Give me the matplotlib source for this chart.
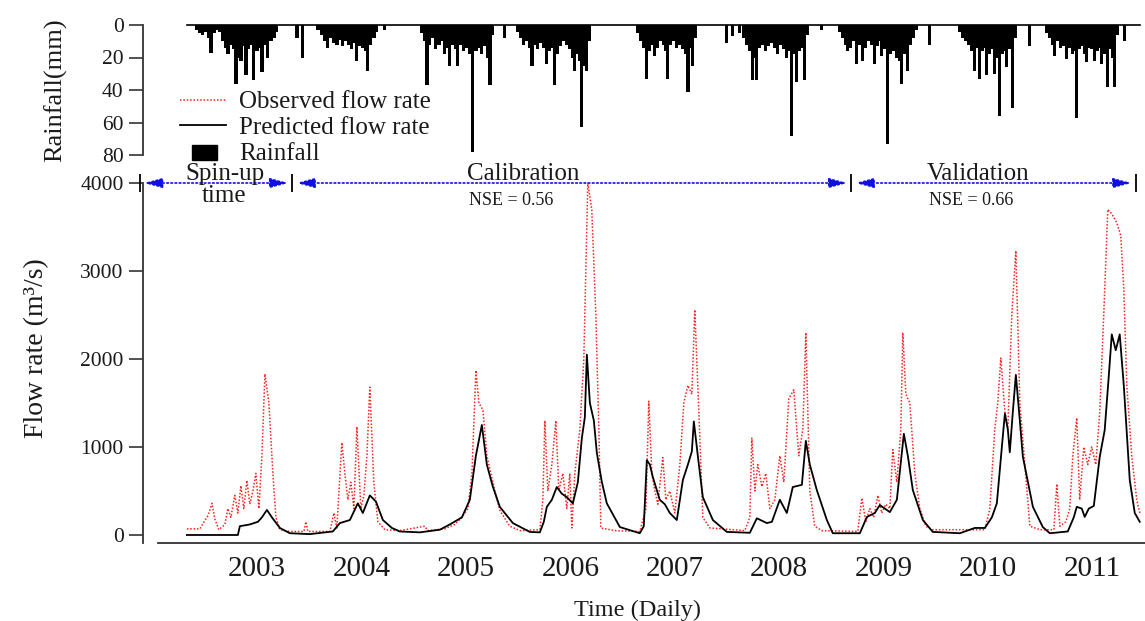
import matplotlib.pyplot as plt
import matplotlib.patches as mpatches
from matplotlib.lines import Line2D
from matplotlib.legend_handler import HandlerPatch

plt.rcParams['font.family'] = ['Liberation Serif', 'DejaVu Serif']

# time in decimal years, flow in m3/s
pred_t = [
    2002.830, 2003.318, 2003.337, 2003.433, 2003.510, 2003.548, 2003.596, 2003.644, 2003.720, 2003.816,
    2004.007, 2004.227, 2004.294, 2004.390, 2004.466, 2004.514, 2004.581, 2004.639, 2004.706, 2004.792,
    2004.868, 2005.060, 2005.251, 2005.347, 2005.462, 2005.538, 2005.596, 2005.653, 2005.701, 2005.758,
    2005.825, 2005.950, 2006.112, 2006.208, 2006.246, 2006.275, 2006.323, 2006.370, 2006.418, 2006.466,
    2006.524, 2006.572, 2006.610, 2006.639, 2006.658, 2006.687, 2006.725, 2006.754, 2006.802, 2006.849,
    2006.974, 2007.165, 2007.203, 2007.232, 2007.261, 2007.289, 2007.356, 2007.404, 2007.452, 2007.519,
    2007.577, 2007.625, 2007.663, 2007.682, 2007.720, 2007.768, 2007.864, 2007.998, 2008.218, 2008.285,
    2008.381, 2008.429, 2008.505, 2008.572, 2008.629, 2008.716, 2008.754, 2008.792, 2008.859, 2008.955,
    2009.012, 2009.271, 2009.338, 2009.414, 2009.462, 2009.510, 2009.558, 2009.625, 2009.692, 2009.730,
    2009.778, 2009.874, 2009.969, 2010.228, 2010.371, 2010.467, 2010.534, 2010.582, 2010.630, 2010.659,
    2010.687, 2010.706, 2010.735, 2010.764, 2010.802, 2010.831, 2010.927, 2011.022, 2011.089, 2011.261,
    2011.318, 2011.347, 2011.395, 2011.423, 2011.462, 2011.510, 2011.567, 2011.614, 2011.653, 2011.682,
    2011.720, 2011.758, 2011.797, 2011.854, 2011.902, 2011.950]
pred_q = [
    0, 0, 100, 120, 150, 200, 285, 200, 80, 20,
    10, 40, 135, 170, 360, 250, 450, 380, 170, 80,
    40, 30, 60, 120, 200, 400, 900, 1250, 800, 550,
    320, 135, 35, 30, 150, 320, 400, 545, 470, 430,
    360, 600, 1100, 1340, 2050, 1500, 1300, 930, 600, 360,
    90, 20, 100, 850, 800, 660, 400, 350, 250, 170,
    625, 800, 950, 1290, 900, 430, 170, 35, 25, 190,
    135, 150, 400, 250, 545, 570, 1070, 800, 510, 170,
    20, 20, 205, 250, 340, 300, 260, 400, 1150, 900,
    510, 170, 35, 20, 80, 80, 200, 360, 1000, 1380,
    1200, 940, 1400, 1820, 1300, 890, 320, 90, 20, 40,
    200, 320, 300, 205, 300, 330, 890, 1190, 1800, 2280,
    2100, 2280, 1700, 625, 250, 150]

obs_t = [
    2002.830, 2002.955, 2002.994, 2003.032, 2003.070, 2003.098, 2003.136, 2003.194, 2003.222, 2003.251,
    2003.289, 2003.318, 2003.347, 2003.375, 2003.404, 2003.433, 2003.462, 2003.490, 2003.519, 2003.548,
    2003.577, 2003.615, 2003.653, 2003.682, 2003.720, 2003.816, 2003.950, 2003.969, 2003.988, 2004.199,
    2004.237, 2004.265, 2004.313, 2004.342, 2004.371, 2004.399, 2004.428, 2004.457, 2004.495, 2004.524,
    2004.553, 2004.581, 2004.619, 2004.658, 2004.725, 2004.868, 2005.107, 2005.136, 2005.299, 2005.394,
    2005.462, 2005.519, 2005.558, 2005.596, 2005.625, 2005.663, 2005.701, 2005.730, 2005.778, 2005.825,
    2005.920, 2006.016, 2006.208, 2006.237, 2006.256, 2006.285, 2006.323, 2006.361, 2006.390, 2006.428,
    2006.466, 2006.495, 2006.514, 2006.543, 2006.591, 2006.629, 2006.667, 2006.705, 2006.744, 2006.773,
    2006.792, 2006.926, 2007.165, 2007.223, 2007.251, 2007.280, 2007.309, 2007.337, 2007.385, 2007.414,
    2007.452, 2007.500, 2007.548, 2007.586, 2007.625, 2007.663, 2007.691, 2007.730, 2007.768, 2007.835,
    2008.170, 2008.218, 2008.237, 2008.266, 2008.294, 2008.333, 2008.371, 2008.409, 2008.457, 2008.505,
    2008.543, 2008.591, 2008.639, 2008.686, 2008.725, 2008.754, 2008.792, 2008.839, 2008.906, 2009.251,
    2009.290, 2009.328, 2009.366, 2009.404, 2009.443, 2009.481, 2009.519, 2009.558, 2009.586, 2009.625,
    2009.663, 2009.682, 2009.711, 2009.749, 2009.797, 2009.845, 2009.902, 2009.960, 2010.467, 2010.515,
    2010.562, 2010.591, 2010.620, 2010.659, 2010.687, 2010.725, 2010.764, 2010.802, 2010.850, 2010.898,
    2010.994, 2011.128, 2011.156, 2011.185, 2011.242, 2011.280, 2011.309, 2011.347, 2011.375, 2011.414,
    2011.452, 2011.490, 2011.529, 2011.567, 2011.605, 2011.644, 2011.682, 2011.730, 2011.768, 2011.797,
    2011.826, 2011.873, 2011.921, 2011.950]
obs_q = [
    70, 70, 150, 220, 360, 180, 60, 120, 300, 200,
    450, 250, 560, 300, 620, 350, 500, 700, 300, 900,
    1830, 1500, 700, 200, 60, 40, 40, 150, 40, 40,
    250, 80, 1050, 700, 400, 600, 300, 1230, 300, 450,
    900, 1680, 600, 150, 60, 50, 100, 50, 70, 120,
    200, 300, 700, 1870, 1500, 1420, 900, 750, 500, 280,
    100, 50, 60, 400, 1300, 500, 800, 1300, 500, 700,
    300, 700, 80, 700, 1200, 2000, 4000, 3700, 2500, 1200,
    80, 50, 40, 300, 1520, 700, 500, 350, 880, 400,
    500, 250, 800, 1500, 1700, 1600, 2560, 1400, 200, 80,
    50, 200, 1100, 500, 800, 550, 700, 300, 400, 900,
    600, 1550, 1650, 900, 1200, 2300, 500, 100, 50, 40,
    420, 150, 300, 200, 450, 250, 350, 300, 970, 600,
    1200, 2300, 1600, 1500, 700, 300, 100, 60, 60, 300,
    1200, 1500, 2010, 1400, 1200, 2500, 3230, 1500, 800, 100,
    60, 60, 580, 100, 150, 300, 900, 1330, 400, 1000,
    800, 1000, 800, 1400, 2500, 3700, 3650, 3550, 3400, 2800,
    1700, 900, 400, 250]

# rainfall (mm), one block per wet season
rain_t = [
    2002.926, 2002.955, 2002.983, 2003.012, 2003.041, 2003.060, 2003.089, 2003.117, 2003.146, 2003.175,
    2003.204, 2003.223, 2003.251, 2003.280, 2003.299, 2003.328, 2003.347, 2003.376, 2003.395, 2003.423,
    2003.452, 2003.471, 2003.500, 2003.529, 2003.548, 2003.577, 2003.605, 2003.634, 2003.663, 2003.691,
    2003.883, 2003.940,
    2004.084, 2004.122, 2004.151, 2004.179, 2004.208, 2004.237, 2004.266, 2004.294, 2004.323, 2004.352,
    2004.380, 2004.409, 2004.438, 2004.457, 2004.486, 2004.514, 2004.543, 2004.562, 2004.591, 2004.620,
    2004.648, 2004.725,
    2005.079, 2005.108, 2005.127, 2005.155, 2005.184, 2005.213, 2005.242, 2005.270, 2005.299, 2005.328,
    2005.347, 2005.376, 2005.404, 2005.423, 2005.452, 2005.481, 2005.510, 2005.538, 2005.567, 2005.596,
    2005.625, 2005.653, 2005.682, 2005.711, 2005.730, 2005.758, 2005.873,
    2005.998, 2006.026, 2006.055, 2006.084, 2006.113, 2006.132, 2006.160, 2006.189, 2006.218, 2006.247,
    2006.275, 2006.304, 2006.333, 2006.352, 2006.380, 2006.409, 2006.438, 2006.467, 2006.495, 2006.524,
    2006.543, 2006.572, 2006.591, 2006.610, 2006.639, 2006.658, 2006.687,
    2007.146, 2007.175, 2007.203, 2007.232, 2007.261, 2007.290, 2007.309, 2007.337, 2007.366, 2007.395,
    2007.414, 2007.433, 2007.462, 2007.490, 2007.519, 2007.548, 2007.577, 2007.605, 2007.625, 2007.653,
    2007.672, 2007.701, 2007.998, 2008.055,
    2008.122, 2008.160, 2008.189, 2008.218, 2008.246, 2008.265, 2008.285, 2008.313, 2008.342, 2008.371,
    2008.400, 2008.428, 2008.457, 2008.486, 2008.514, 2008.543, 2008.572, 2008.601, 2008.620, 2008.648,
    2008.667, 2008.696, 2008.725, 2008.744, 2008.773, 2008.907,
    2009.079, 2009.107, 2009.136, 2009.155, 2009.184, 2009.213, 2009.241, 2009.270, 2009.299, 2009.328,
    2009.356, 2009.385, 2009.414, 2009.443, 2009.462, 2009.481, 2009.509, 2009.538, 2009.567, 2009.596,
    2009.624, 2009.653, 2009.672, 2009.701, 2009.730, 2009.758, 2009.787, 2009.816, 2009.940,
    2010.227, 2010.256, 2010.285, 2010.313, 2010.342, 2010.371, 2010.400, 2010.419, 2010.447, 2010.466,
    2010.486, 2010.514, 2010.543, 2010.562, 2010.591, 2010.610, 2010.639, 2010.658, 2010.677, 2010.706,
    2010.734, 2010.763, 2010.897,
    2011.060, 2011.088, 2011.117, 2011.136, 2011.165, 2011.194, 2011.222, 2011.251, 2011.280, 2011.309,
    2011.328, 2011.347, 2011.375, 2011.404, 2011.423, 2011.443, 2011.471, 2011.490, 2011.519, 2011.548,
    2011.567, 2011.586, 2011.615, 2011.643, 2011.672, 2011.691, 2011.710, 2011.739, 2011.806]
rain_mm = [
    3, 5, 6, 4, 8, 17, 5, 3, 4, 10,
    14, 18, 12, 15, 36, 20, 22, 13, 31, 15,
    12, 34, 16, 14, 29, 12, 20, 10, 8, 4,
    8, 20,
    3, 6, 10, 14, 8, 11, 12, 9, 13, 10,
    12, 15, 11, 22, 13, 14, 16, 28, 12, 8,
    4, 3,
    5, 10, 37, 12, 8, 15, 12, 10, 18, 14,
    25, 12, 15, 25, 12, 16, 14, 18, 78, 16,
    14, 18, 13, 20, 37, 6, 8,
    4, 8, 12, 10, 14, 25, 12, 15, 11, 14,
    24, 16, 14, 37, 18, 13, 10, 12, 15, 20,
    28, 18, 22, 63, 25, 28, 10,
    5, 10, 14, 33, 16, 12, 19, 14, 10, 12,
    16, 33, 12, 10, 14, 12, 15, 18, 41, 14,
    25, 8, 11, 7,
    5, 8, 12, 16, 34, 20, 34, 14, 12, 16,
    13, 11, 14, 18, 12, 15, 20, 16, 68, 18,
    35, 16, 14, 34, 6, 3,
    4, 8, 12, 16, 14, 10, 24, 12, 22, 14,
    10, 12, 24, 13, 10, 19, 15, 73, 18, 16,
    20, 22, 36, 18, 28, 12, 8, 3, 12,
    4, 8, 10, 12, 16, 28, 14, 33, 16, 14,
    31, 18, 15, 30, 20, 56, 18, 16, 26, 15,
    51, 8, 13,
    5, 8, 12, 19, 10, 14, 13, 21, 14, 18,
    16, 57, 15, 13, 18, 23, 14, 15, 22, 16,
    14, 24, 18, 38, 15, 20, 38, 6, 10]

years = [2003, 2004, 2005, 2006, 2007, 2008, 2009, 2010, 2011]
period_bounds = [2002.38, 2003.84, 2009.19, 2011.91]
period_names = ['Spin-up\ntime', 'Calibration', 'Validation']
nse_values = [None, 0.56, 0.66]
label_x = [2003.19, 2005.51, 2009.91]

TXT = '#1a1a1a'
SP = '#333333'

fig = plt.figure(figsize=(11.45, 6.21), dpi=100)
ax_r = fig.add_axes([143 / 1145, 1 - 155 / 621, 1002 / 1145, 130 / 621])
ax_q = fig.add_axes([143 / 1145, 1 - 543 / 621, 1002 / 1145, 360 / 621])

for ax in (ax_r, ax_q):
    ax.set_xlim(2002.41, 2012.0)
    ax.set_facecolor('none')
    for s in ('top', 'right'):
        ax.spines[s].set_visible(False)
    ax.spines['left'].set_color(SP)
    ax.spines['left'].set_linewidth(1.3)
    ax.tick_params(axis='y', direction='out', length=10, width=1.2, color=SP,
                   labelsize=15.5, labelcolor=TXT, pad=4)

# rainfall panel (inverted)
ax_r.bar(rain_t, rain_mm, width=0.031, color='black', linewidth=0)
ax_r.plot([obs_t[0], obs_t[-1]], [0, 0], color='black', lw=1.2, clip_on=False)
ax_r.set_ylim(80, 0)
ax_r.set_yticks([0, 20, 40, 60, 80])
ax_r.spines['bottom'].set_visible(False)
ax_r.set_xticks([])
ax_r.set_ylabel('Rainfall(mm)', fontsize=19, color=TXT)
ax_r.yaxis.set_label_coords(-0.076, 0.5)

# flow panel
ax_q.plot(obs_t, obs_q, color='#ff2020', ls=(0, (1, 1.2)), lw=1.1)
ax_q.plot(pred_t, pred_q, color='black', lw=1.3)
ax_q.set_ylim(-91, 4000)
ax_q.set_yticks([0, 1000, 2000, 3000, 4000])
ax_q.spines['bottom'].set_bounds(2002.55, 2012.0)
ax_q.spines['bottom'].set_color(SP)
ax_q.spines['bottom'].set_linewidth(1.3)
ax_q.set_xticks([y + 0.5 for y in years])
ax_q.set_xticklabels([str(y) for y in years])
ax_q.tick_params(axis='x', length=0, pad=9, labelsize=21, labelcolor=TXT)
ax_q.set_ylabel('Flow rate (m³/s)', fontsize=20, color=TXT)
ax_q.yaxis.set_label_coords(-0.094, 0.54)

# simulation periods
gap = 0.04
for i, name in enumerate(period_names):
    a, b = period_bounds[i], period_bounds[i + 1]
    ax_q.annotate('', xy=(a + gap, 4000), xytext=(b - gap, 4000),
                  arrowprops=dict(arrowstyle='<|-|>,head_length=1.1,head_width=0.3',
                                  color='#1010e0', ls=(0, (1, 1.5)), lw=1.2,
                                  shrinkA=0, shrinkB=0, mutation_scale=10),
                  annotation_clip=False)
    if i == 0:
        ax_q.text(label_x[i], 3975, name, ha='center', va='center', fontsize=18,
                  color=TXT, linespacing=1.02)
    else:
        ax_q.text(label_x[i], 4100, name, ha='left', va='center', fontsize=18, color=TXT)
        ax_q.text(label_x[i] + 0.02, 3800, 'NSE = %.2f' % nse_values[i], ha='left',
                  va='center', fontsize=13, color=TXT)
ax_q.plot(period_bounds, [4000] * len(period_bounds), ls='none', marker='|',
          markersize=13, mew=1.3, color='black', clip_on=False)

fig.text(637 / 1145, 1 - 610 / 621, 'Time (Daily)', ha='center', va='center',
         fontsize=17.5, color=TXT)


def small_box(legend, orig_handle, xdescent, ydescent, width, height, fontsize):
    return mpatches.Rectangle((-xdescent + 0.27 * width, -ydescent), 0.53 * width, 0.85 * height)


handles = [Line2D([], [], color='#ff2020', ls=(0, (1, 1.2)), lw=1.1),
           Line2D([], [], color='black', lw=1.3),
           mpatches.Patch(color='black')]
fig.legend(handles, ['Observed flow rate', 'Predicted flow rate', 'Rainfall'],
           loc='upper left', bbox_to_anchor=(180 / 1145, 1 - 91 / 621),
           frameon=False, fontsize=18, labelspacing=0.12, handlelength=1.85,
           handletextpad=0.5, borderpad=0, borderaxespad=0,
           handler_map={mpatches.Patch: HandlerPatch(patch_func=small_box)},
           labelcolor=TXT)

fig.savefig('out.png', dpi=100)
